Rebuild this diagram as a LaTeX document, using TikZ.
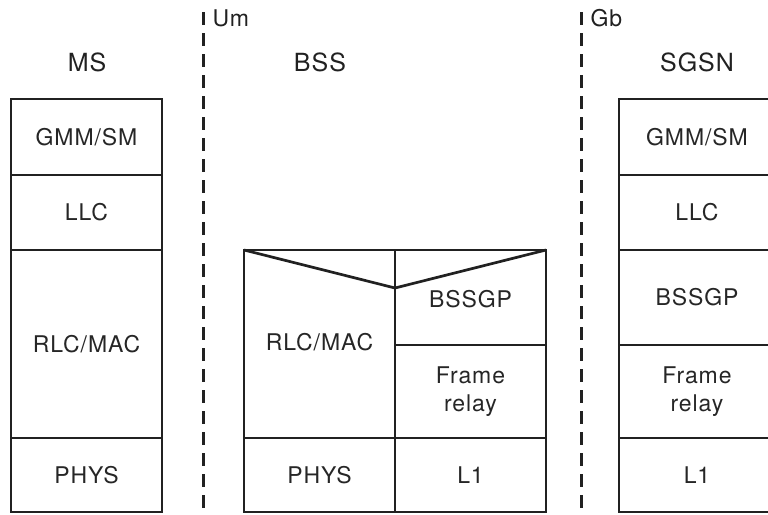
\documentclass[tikz,border=0pt]{standalone}
\usepackage{fontspec}
\setmainfont{TeX Gyre Heros}[LetterSpace=4]
\begin{document}
\begin{tikzpicture}[x=1pt,y=-1pt,
  ln/.style={draw=black!87, line width=2.7pt},
  lyr/.style={ln, minimum width=151pt, inner sep=0pt, outer sep=0pt, anchor=north west, font=\fontsize{23}{28}\selectfont, text=black!85, align=center},
  txt/.style={font=\fontsize{23}{28}\selectfont, text=black!85},
  hdr/.style={font=\fontsize{25}{30}\selectfont, text=black!87},
  ifc/.style={font=\fontsize{23}{27}\selectfont, text=black!87, anchor=west},
  dsh/.style={draw=black!87, line width=3pt, dash pattern=on 13pt off 8pt}]
\useasboundingbox (0,0) rectangle (768,514);
% MS
\node[hdr] (ms) at (87,62) {MS};
\node[lyr, minimum height=76pt] (ms1) at (11,99) {GMM/SM};
\node[lyr, minimum height=75pt] (ms2) at (11,175) {LLC};
\node[lyr, minimum height=188pt] (ms3) at (11,250) {RLC/MAC};
\node[lyr, minimum height=74pt] (ms4) at (11,438) {PHYS};
% interfaces
\coordinate (umt) at (203,12);
\coordinate (umb) at (203,514);
\draw[dsh] (umt) -- (umb);
\node[ifc] (um) at (209,18) {Um};
\coordinate (gbt) at (581,12);
\coordinate (gbb) at (581,514);
\draw[dsh] (gbt) -- (gbb);
\node[ifc] (gb) at (587,18) {Gb};
% BSS
\node[hdr] (bss) at (320,62) {BSS};
\node[lyr, minimum height=188pt] (b1) at (244,250) {};
\node[txt] (b1t) at (319.5,342) {RLC/MAC};
\node[lyr, minimum height=95pt] (b2) at (395,250) {};
\node[txt] (b2t) at (470.5,299) {BSSGP};
\node[lyr, minimum height=93pt] (b3) at (395,345) {Frame\\relay};
\node[lyr, minimum height=74pt] (b4) at (244,438) {PHYS};
\node[lyr, minimum height=74pt] (b5) at (395,438) {L1};
\draw[ln, line join=miter] (b1.north west) -- (b1.north east |- 0,288) -- (b2.north east);
% SGSN
\node[hdr] (sgsn) at (697,62) {SGSN};
\node[lyr, minimum width=156pt, minimum height=76pt] (s1) at (619,99) {GMM/SM};
\node[lyr, minimum width=156pt, minimum height=75pt] (s2) at (619,175) {LLC};
\node[lyr, minimum width=156pt, minimum height=95pt] (s3) at (619,250) {BSSGP};
\node[lyr, minimum width=156pt, minimum height=93pt] (s4) at (619,345) {Frame\\relay};
\node[lyr, minimum width=156pt, minimum height=74pt] (s5) at (619,438) {L1};
\end{tikzpicture}
\end{document}
